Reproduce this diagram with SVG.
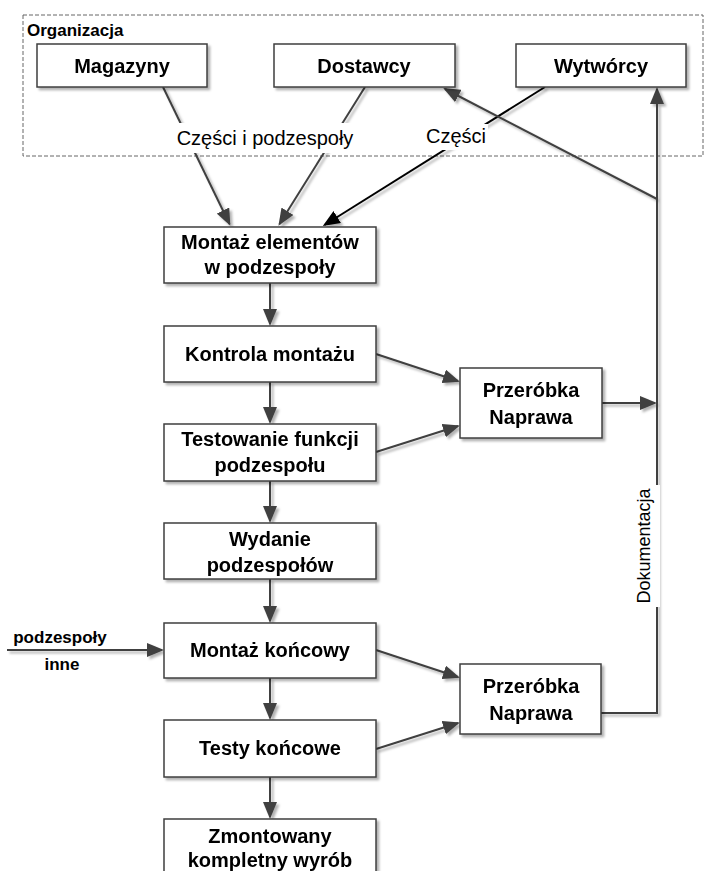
<svg xmlns="http://www.w3.org/2000/svg" width="704" height="871" viewBox="0 0 704 871">
<style>
.box{fill:#fff;stroke:#3f3f3f;stroke-width:1.5}
.t{font-family:"Liberation Sans",Arial,sans-serif;font-size:20px;font-weight:bold;fill:#000;text-anchor:middle}
.lbl{font-family:"Liberation Sans",Arial,sans-serif;font-size:20px;fill:#000;text-anchor:middle}
.sm{font-family:"Liberation Sans",Arial,sans-serif;font-size:17px;font-weight:bold;fill:#000}
.c{fill:none;stroke:#404040;stroke-width:2}
.cb{fill:none;stroke:#000;stroke-width:2}
</style>
<defs>
<filter id="sh" x="-10%" y="-10%" width="130%" height="140%">
<feDropShadow dx="2.5" dy="2.5" stdDeviation="1.2" flood-color="#000" flood-opacity="0.3"/>
</filter>
<marker id="ah" markerUnits="userSpaceOnUse" markerWidth="18" markerHeight="14" refX="15" refY="7" orient="auto">
<path d="M0,0 L17,7 L0,14 z" fill="#404040"/>
</marker>
<marker id="ahb" markerUnits="userSpaceOnUse" markerWidth="18" markerHeight="14" refX="15" refY="7" orient="auto">
<path d="M0,0 L17,7 L0,14 z" fill="#000"/>
</marker>
</defs>
<rect width="704" height="871" fill="#fff"/>

<g id="organizacja">
<rect x="23" y="15" width="680" height="141" fill="none" stroke="#666" stroke-width="1" stroke-dasharray="4,2"/>
<text class="sm" x="27" y="36">Organizacja</text>
</g>

<g id="connectors" filter="url(#sh)">
<line class="c" x1="163" y1="87" x2="229.5" y2="224" marker-end="url(#ah)"/>
<line class="c" x1="365" y1="87" x2="279.5" y2="224" marker-end="url(#ah)"/>
<line class="cb" x1="545" y1="87" x2="324.5" y2="225" marker-end="url(#ahb)"/>
<line class="c" x1="270" y1="283" x2="270" y2="324" marker-end="url(#ah)"/>
<line class="c" x1="270" y1="382" x2="270" y2="422" marker-end="url(#ah)"/>
<line class="c" x1="270" y1="481" x2="270" y2="521" marker-end="url(#ah)"/>
<line class="c" x1="270" y1="579" x2="270" y2="621" marker-end="url(#ah)"/>
<line class="c" x1="270" y1="678" x2="270" y2="718" marker-end="url(#ah)"/>
<line class="c" x1="270" y1="777" x2="270" y2="817" marker-end="url(#ah)"/>
<line class="c" x1="376" y1="354" x2="458" y2="381" marker-end="url(#ah)"/>
<line class="c" x1="376" y1="452" x2="458" y2="426" marker-end="url(#ah)"/>
<line class="c" x1="376" y1="650" x2="458" y2="677" marker-end="url(#ah)"/>
<line class="c" x1="376" y1="749" x2="458" y2="723" marker-end="url(#ah)"/>
<line class="c" x1="602" y1="403" x2="655" y2="403" marker-end="url(#ah)"/>
<path class="c" d="M601,713 H657 V89" marker-end="url(#ah)"/>
<line class="c" x1="657" y1="199" x2="445" y2="89" marker-end="url(#ah)"/>
<line class="c" x1="7" y1="650" x2="162" y2="650" marker-end="url(#ah)"/>
</g>

<g id="labels">
<rect x="170" y="123" width="190" height="30" fill="#fff"/>
<text class="lbl" x="265" y="145">Części i podzespoły</text>
<rect x="424" y="124" width="64" height="26" fill="#fff"/>
<text class="lbl" x="456" y="143">Części</text>
<rect x="636" y="485" width="24" height="122" fill="#fff"/>
<text class="lbl" x="0" y="0" transform="translate(650,546) rotate(-90)" style="font-size:18px">Dokumentacja</text>
<text class="sm" x="60" y="643" text-anchor="middle">podzespoły</text>
<text class="sm" x="62" y="670" text-anchor="middle">inne</text>
</g>

<g id="magazyny" filter="url(#sh)">
<rect class="box" x="37" y="44" width="170" height="43"/>
<text class="t" x="122" y="73">Magazyny</text>
</g>
<g id="dostawcy" filter="url(#sh)">
<rect class="box" x="274" y="44" width="181" height="43"/>
<text class="t" x="364" y="73">Dostawcy</text>
</g>
<g id="wytworcy" filter="url(#sh)">
<rect class="box" x="516" y="44" width="170" height="43"/>
<text class="t" x="601" y="73">Wytwórcy</text>
</g>

<g id="montaz-elementow" filter="url(#sh)">
<rect class="box" x="164" y="227" width="212" height="56"/>
<text class="t" x="270" y="249">Montaż elementów</text>
<text class="t" x="270" y="274">w podzespoły</text>
</g>
<g id="kontrola" filter="url(#sh)">
<rect class="box" x="164" y="326" width="212" height="56"/>
<text class="t" x="270" y="361">Kontrola montażu</text>
</g>
<g id="testowanie" filter="url(#sh)">
<rect class="box" x="164" y="424" width="212" height="57"/>
<text class="t" x="270" y="446">Testowanie funkcji</text>
<text class="t" x="270" y="472">podzespołu</text>
</g>
<g id="wydanie" filter="url(#sh)">
<rect class="box" x="164" y="523" width="212" height="56"/>
<text class="t" x="270" y="546">Wydanie</text>
<text class="t" x="270" y="572">podzespołów</text>
</g>
<g id="montaz-koncowy" filter="url(#sh)">
<rect class="box" x="164" y="623" width="212" height="55"/>
<text class="t" x="270" y="657">Montaż końcowy</text>
</g>
<g id="testy" filter="url(#sh)">
<rect class="box" x="164" y="720" width="212" height="57"/>
<text class="t" x="270" y="755">Testy końcowe</text>
</g>
<g id="zmontowany" filter="url(#sh)">
<rect class="box" x="164" y="819" width="212" height="70"/>
<text class="t" x="270" y="843">Zmontowany</text>
<text class="t" x="270" y="867">kompletny wyrób</text>
</g>
<g id="przerobka1" filter="url(#sh)">
<rect class="box" x="460" y="368" width="142" height="70"/>
<text class="t" x="531" y="397">Przeróbka</text>
<text class="t" x="531" y="424">Naprawa</text>
</g>
<g id="przerobka2" filter="url(#sh)">
<rect class="box" x="460" y="664" width="141" height="70"/>
<text class="t" x="531" y="693">Przeróbka</text>
<text class="t" x="531" y="720">Naprawa</text>
</g>
</svg>
